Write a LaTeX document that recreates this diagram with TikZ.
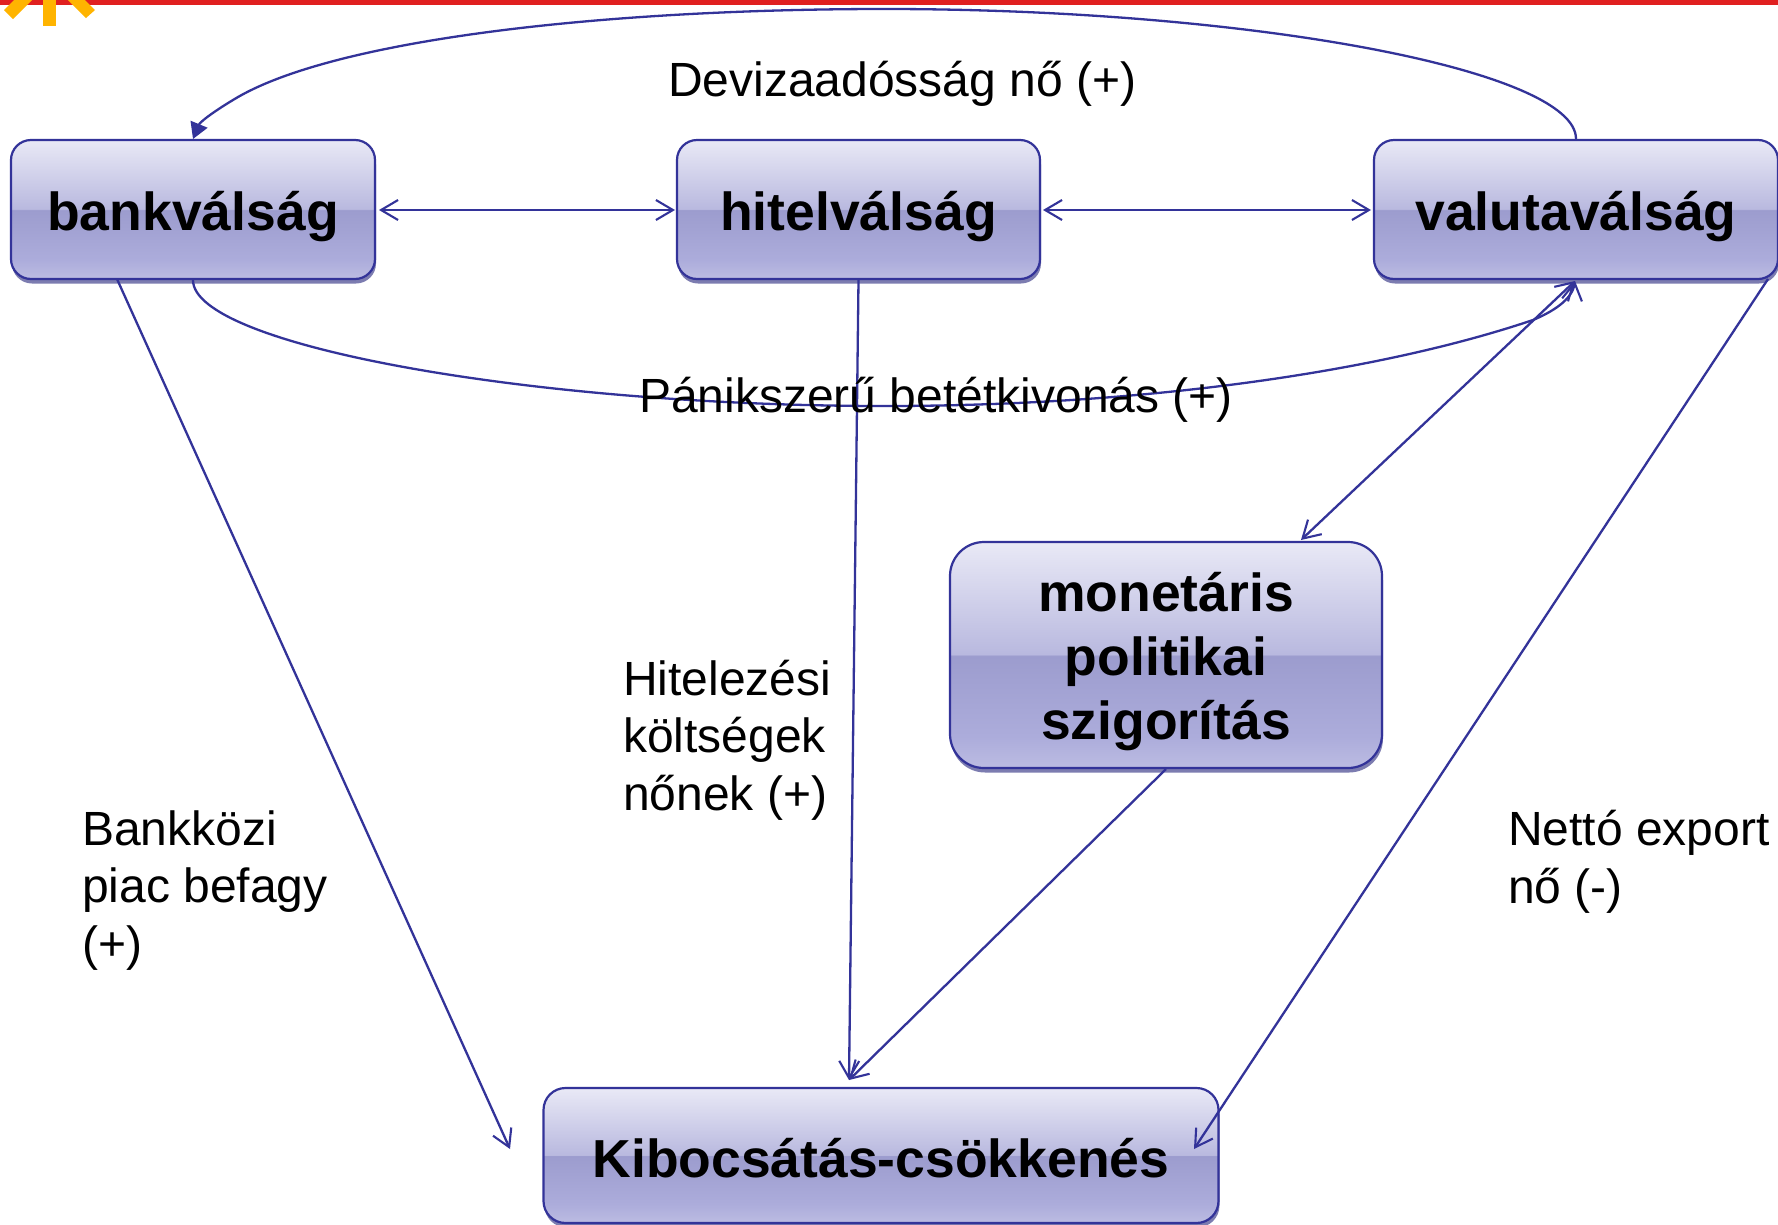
\documentclass[tikz,border=0pt]{standalone}
\usepackage{fontspec}
\setmainfont{Liberation Sans}
\usetikzlibrary{arrows.meta,shadows,calc}
\definecolor{navy}{HTML}{333399}
\definecolor{gA}{HTML}{E9E9F6}
\definecolor{gB}{HTML}{B9B9DF}
\definecolor{gC}{HTML}{9C9CCE}
\definecolor{gD}{HTML}{ACACDB}
\definecolor{gE}{HTML}{BCBCE2}
\definecolor{shad}{HTML}{7C7CB0}
\definecolor{barred}{HTML}{E02020}
\definecolor{sun}{HTML}{FFB400}
\pgfdeclareverticalshading{glass}{100bp}{color(0bp)=(gE);color(25bp)=(gE);color(32bp)=(gD);color(49.8bp)=(gC);color(50.2bp)=(gB);color(75bp)=(gA);color(100bp)=(gA)}
\tikzset{
  >={Straight Barb[length=17pt,width=20pt,line width=2.1pt]},
  box/.style={draw=navy,line width=2.2pt,shading=glass,font=\bfseries\fontsize{53.5}{64}\selectfont,align=center,inner sep=0pt,
    general shadow={shadow xshift=1pt,shadow yshift=-4.5pt,fill=shad}},
  link/.style={draw=navy,line width=2.3pt},
  lab/.style={font=\fontsize{48}{57.5}\selectfont,align=left,inner sep=0pt,text=black,anchor=base west}
}
\begin{document}
\begin{tikzpicture}[x=1pt,y=-1pt]
\useasboundingbox (0,0) rectangle (1778,1224);
\fill[white] (0,0) rectangle (1778,1224);
\fill[barred] (0,0) rectangle (1778,4.5);
\fill[sun] (43,0) rectangle (56,26);
\fill[sun] (14,0) -- (32,0) -- (13,19) -- (4,10) -- cycle;
\fill[sun] (68,0) -- (85,0) -- (95,10) -- (86,18) -- cycle;
\node[box,minimum width=364pt,minimum height=139pt,rounded corners=20pt,text height=54pt] (bank) at (193,209.5) {bankválság};
\node[box,minimum width=363pt,minimum height=139pt,rounded corners=20pt,text height=54pt] (hitel) at (858.5,209.5) {hitelválság};
\node[box,minimum width=404pt,minimum height=139pt,rounded corners=20pt,text height=54pt] (valuta) at (1576,209.5) {valutaválság};
\node[box,minimum width=432pt,minimum height=226pt,rounded corners=34pt,text height=181pt] (mon) at (1166,655) {monetáris\\politikai\\szigorítás};
\node[box,minimum width=675pt,minimum height=135pt,rounded corners=22pt,text height=45pt] (kib) at (881,1155.5) {Kibocsátás-csökkenés};
\coordinate (bankR) at (379,210);
\coordinate (hitelL) at (675,210);
\coordinate (hitelR) at (1043,210);
\coordinate (valL) at (1371,210);
\coordinate (bankS) at (117,279);
\coordinate (kibL) at (510,1149);
\coordinate (kibT) at (849,1080);
\coordinate (monT) at (1301,540);
\coordinate (valS) at (1575,281);
\coordinate (valSE) at (1768,279);
\coordinate (kibR) at (1194,1149);
\draw[link,-{Triangle[length=16pt,width=18pt]}] (valuta.north) .. controls (1576,70) and (1250,9) .. (885,9) .. controls (600,9) and (330,40) .. (233,100) .. controls (213,112) and (200,122) .. (193,139);
\draw[link,->] (bank.south) .. controls (193,345) and (530,406) .. (885,406) .. controls (1130,406) and (1370,375) .. (1533,320) .. controls (1552,312) and (1572,300) .. (valS);
\draw[link,<->] (bankR) -- (hitelL);
\draw[link,<->] (hitelR) -- (valL);
\draw[link,->] (bankS) -- (kibL);
\draw[link,->] (hitel.south) -- (kibT);
\draw[link,->] (mon.south) -- (kibT);
\draw[link,<->] (monT) -- (valS);
\draw[link,->] (valSE) -- (kibR);
\node[lab] (t1) at (668,96) {Devizaadósság nő (+)};
\node[lab] (t2) at (639,412) {Pánikszerű betétkivonás (+)};
\node[lab] (t3) at (623,810) {Hitelezési\\költségek\\nőnek (+)};
\node[lab] (t4) at (82,960) {Bankközi\\piac befagy\\(+)};
\node[lab] (t5) at (1508,903) {Nettó export\\nő (-)};
\end{tikzpicture}
\end{document}
